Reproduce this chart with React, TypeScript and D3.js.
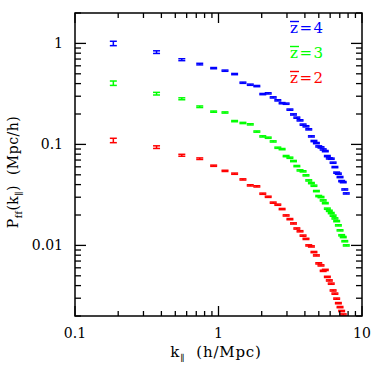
import React, { useEffect } from "react";
import * as d3 from "d3";

// bin centres k_par (h/Mpc)
const kVals = [
  0.185, 0.37, 0.555, 0.74, 0.925, 1.11, 1.295, 1.48, 1.665, 1.85, 2.035, 2.22,
  2.405, 2.59, 2.775, 2.96, 3.145, 3.33, 3.515, 3.7, 3.885, 4.07, 4.255, 4.44,
  4.625, 4.81, 4.995, 5.18, 5.365, 5.55, 5.735, 5.92, 6.105, 6.29, 6.475, 6.66,
  6.845, 7.03, 7.215, 7.4, 7.585, 7.77,
];

const pZ4 = [
  1.0, 0.82, 0.69, 0.624, 0.569, 0.537, 0.497, 0.408, 0.39, 0.378, 0.315, 0.32,
  0.292, 0.273, 0.256, 0.253, 0.221, 0.198, 0.184, 0.173, 0.157, 0.151, 0.141,
  0.12, 0.108, 0.103, 0.0955, 0.0934, 0.0891, 0.0858, 0.0766, 0.0727, 0.0722,
  0.0659, 0.0596, 0.0525, 0.0513, 0.0475, 0.0433, 0.0423, 0.0358, 0.0327,
];

const pZ3 = [
  0.404, 0.318, 0.283, 0.236, 0.211, 0.207, 0.17, 0.163, 0.158, 0.134, 0.12,
  0.1165, 0.107, 0.0927, 0.0898, 0.0766, 0.0738, 0.0684, 0.061, 0.0553, 0.0541,
  0.0494, 0.044, 0.0414, 0.039, 0.0345, 0.0308, 0.0301, 0.0279, 0.0262, 0.0231,
  0.022, 0.0209, 0.0197, 0.0185, 0.0174, 0.0158, 0.0141, 0.0126, 0.0121, 0.011,
  0.01,
];

const pZ2 = [
  0.1095, 0.094, 0.0781, 0.0722, 0.0615, 0.0547, 0.0513, 0.045, 0.0393, 0.0384,
  0.0325, 0.0303, 0.0265, 0.0253, 0.0229, 0.0198, 0.0182, 0.0165, 0.0147,
  0.0138, 0.0125, 0.0116, 0.01, 0.00977, 0.00859, 0.00796, 0.00664, 0.00634,
  0.0056, 0.00572, 0.00488, 0.0045, 0.00418, 0.00358, 0.00333, 0.00297,
  0.00268, 0.00245, 0.00224, 0.00207, 0.00196,
];

// fractional errors, first bins are the only visible ones
const errFirst = [0.05, 0.03, 0.022, 0.018];
const errDefault = 0.014;

const seriesNames = ["z=4", "z=3", "z=2"];
const seriesColors = ["#0000ff", "#00ff00", "#ff0000"];
const seriesData = [pZ4, pZ3, pZ2];

const xTickLabels = ["0.1", "1", "10"];
const yTickLabels = ["1", "0.1", "0.01"];

const W = 374;
const H = 374;
const margin = { left: 75, right: 12, top: 13, bottom: 58 };
const FONT = "'DejaVu Serif', serif";

export default function App() {
  useEffect(() => {
    document.body.style.margin = "0";
  }, []);

  const x = d3
    .scaleLog()
    .domain([0.1, 10])
    .range([margin.left, W - margin.right]);
  const y = d3
    .scaleLog()
    .domain([0.002, 2])
    .range([H - margin.bottom, margin.top]);

  const x0 = margin.left;
  const x1 = W - margin.right;
  const y0 = H - margin.bottom;
  const y1 = margin.top;

  const xMinor = x.ticks().filter((t) => !xTickLabels.includes(String(t)));
  const xMajor = xTickLabels.map(Number);
  const yAll = y.ticks();
  const yMajor = yTickLabels.map(Number);
  const yMinor = yAll.filter(
    (t) => !yMajor.some((m) => Math.abs(m - t) < 1e-9)
  );

  const capW = 7;

  const points = seriesData.map((vals, si) => (
    <g key={si} stroke={seriesColors[si]} strokeWidth={1.5}>
      {vals.map((v, i) => {
        const e = i < errFirst.length ? errFirst[i] : errDefault;
        const cx = x(kVals[i]);
        const lo = y(v * (1 - e));
        const hi = y(v * (1 + e));
        return (
          <g key={i}>
            <line x1={cx} x2={cx} y1={lo} y2={hi} />
            <line x1={cx - capW / 2} x2={cx + capW / 2} y1={lo} y2={lo} />
            <line x1={cx - capW / 2} x2={cx + capW / 2} y1={hi} y2={hi} />
          </g>
        );
      })}
    </g>
  ));

  const legX = 290;
  const legY0 = 33;
  const legStep = 25;

  return (
    <svg width={W} height={H} style={{ display: "block" }} fontFamily={FONT}>
      <rect width={W} height={H} fill="white" />
      <defs>
        <clipPath id="plot">
          <rect x={x0} y={y1} width={x1 - x0} height={y0 - y1} />
        </clipPath>
      </defs>
      <g clipPath="url(#plot)">{points}</g>

      {/* ticks */}
      <g stroke="black" strokeWidth={1.3}>
        {xMinor.map((t) => (
          <g key={"xm" + t}>
            <line x1={x(t)} x2={x(t)} y1={y0} y2={y0 - 5} />
            <line x1={x(t)} x2={x(t)} y1={y1} y2={y1 + 5} />
          </g>
        ))}
        {xMajor.map((t) => (
          <g key={"xM" + t}>
            <line x1={x(t)} x2={x(t)} y1={y0} y2={y0 - 10} />
            <line x1={x(t)} x2={x(t)} y1={y1} y2={y1 + 10} />
          </g>
        ))}
        {yMinor.map((t) => (
          <g key={"ym" + t}>
            <line x1={x0} x2={x0 + 6} y1={y(t)} y2={y(t)} />
            <line x1={x1} x2={x1 - 6} y1={y(t)} y2={y(t)} />
          </g>
        ))}
        {yMajor.map((t) => (
          <g key={"yM" + t}>
            <line x1={x0} x2={x0 + 11} y1={y(t)} y2={y(t)} />
            <line x1={x1} x2={x1 - 11} y1={y(t)} y2={y(t)} />
          </g>
        ))}
      </g>
      <rect
        x={x0}
        y={y1}
        width={x1 - x0}
        height={y0 - y1}
        fill="none"
        stroke="black"
        strokeWidth={1.5}
      />

      {/* tick labels */}
      <g fontSize={14} fill="black">
        {xTickLabels.map((l) => (
          <text key={l} x={x(+l)} y={y0 + 22} textAnchor="middle">
            {l}
          </text>
        ))}
        {yTickLabels.map((l) => (
          <text key={l} x={x0 - 12} y={y(+l) + 5} textAnchor="end">
            {l}
          </text>
        ))}
      </g>

      {/* axis titles */}
      <text
        x={216}
        y={357}
        textAnchor="middle"
        fontSize={15}
        letterSpacing={0.8}
      >
        k
        <tspan fontSize={9} dy={4}>
          ∥
        </tspan>
        <tspan dy={-4}>{"\u00a0\u00a0(h/Mpc)"}</tspan>
      </text>
      <text
        transform="translate(18,172) rotate(-90)"
        textAnchor="middle"
        fontSize={14}
        letterSpacing={0.5}
      >
        P
        <tspan fontSize={9} dy={4}>
          ff
        </tspan>
        <tspan dy={-4}>(k</tspan>
        <tspan fontSize={9} dy={4}>
          ∥
        </tspan>
        <tspan dy={-4}>{")\u00a0\u00a0(Mpc/h)"}</tspan>
      </text>

      {/* legend: z with an overbar */}
      {seriesNames.map((n, i) => {
        const by = legY0 + i * legStep;
        return (
          <g key={n} fill={seriesColors[i]}>
            <line
              x1={legX}
              x2={legX + 9}
              y1={by - 11.5}
              y2={by - 11.5}
              stroke={seriesColors[i]}
              strokeWidth={1.4}
            />
            <text x={legX} y={by} fontSize={15} letterSpacing={1.5}>
              {n}
            </text>
          </g>
        );
      })}
    </svg>
  );
}
